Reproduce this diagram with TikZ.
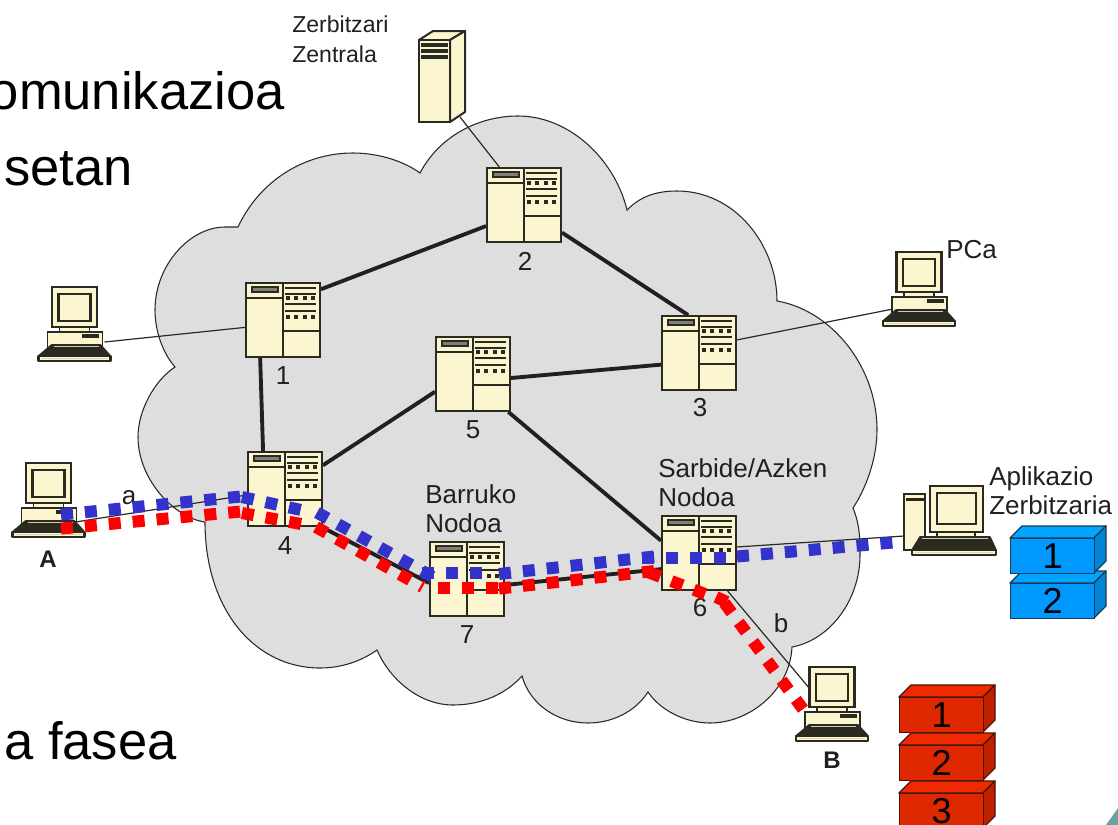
\documentclass[tikz,border=0pt]{standalone}
\usepackage{fontspec}
\setmainfont{Liberation Sans}
\usetikzlibrary{calc}
\pgfdeclarelayer{cloudlayer}
\pgfdeclarelayer{linklayer}
\pgfsetlayers{cloudlayer,linklayer,main}
\definecolor{ink}{HTML}{2B2A20}
\definecolor{cream}{HTML}{FBF6CF}
\definecolor{cloudgrey}{HTML}{DEDEDE}
\definecolor{txt}{HTML}{231F20}
\definecolor{routeblue}{HTML}{3333CC}
\definecolor{routered}{HTML}{FF0000}
\definecolor{blueF}{HTML}{0099FF}
\definecolor{blueT}{HTML}{00A5FF}
\definecolor{blueS}{HTML}{0085D8}
\definecolor{blueL}{HTML}{1A3A55}
\definecolor{redF}{HTML}{DD2800}
\definecolor{redT}{HTML}{F02A00}
\definecolor{redS}{HTML}{BF2000}
\definecolor{redL}{HTML}{4A1208}
\definecolor{cornerteal}{HTML}{66A3A3}
\newcommand\keyboardshape[7]{%
  % #1 x left-top, #2 x right-top, #3 y top, #4 x left-bottom, #5 x right-bottom, #6 y mid, #7 y bottom
  \draw[line width=1.6pt,draw=ink,fill=cream,line join=round] (#4,#6)--(#5,#6)--(#5,#7)--(#4,#7)--cycle;
  \draw[line width=1.2pt,draw=ink,fill=ink,line join=round] (#1,#3)--(#2,#3)--(#5,#6)--(#4,#6)--cycle;
  \draw[line width=.5pt,cream!80!ink] (#1+2,#3+1.5)--(#2-2,#3+1.5);
  \draw[line width=.9pt,cream!85!ink] (#4+3,#6+2.2)--(#5-3,#6+2.2);
}
\newcommand\stackblock[8]{%
  % #1 name, #2 x, #3 y, #4 digit, #5 front, #6 top, #7 side, #8 line
  \draw[line width=1pt,draw=#8,fill=#6,line join=round] (#2,#3)--(#2+12,#3-12)--(#2+96,#3-12)--(#2+84,#3)--cycle;
  \draw[line width=1pt,draw=#8,fill=#7,line join=round] (#2+84,#3)--(#2+96,#3-12)--(#2+96,#3+23)--(#2+84,#3+35)--cycle;
  \node[blockface,draw=#8,fill=#5,anchor=north west] (#1) at (#2,#3) {#4};
}
\tikzset{
  x=0.75pt,y=-0.75pt,
  router/.style={rectangle,draw=ink,line width=1.5pt,fill=cream,inner sep=0pt,
    minimum width=55.5pt,minimum height=55.5pt,
    path picture={
      \draw[line width=1.4pt,ink] (0,-37)--(0,37) (-37,-22)--(0,-22) (0,11)--(37,11);
      \draw[line width=.9pt,draw=ink,fill=ink!60] (-31,-33) rectangle (-5,-28);
      \draw[line width=1.8pt,ink] (2,-32)--(33,-32) (2,-16)--(33,-16) (2,-9)--(33,-9);
      \draw[line width=.9pt,ink] (2,-26)--(33,-26);
      \foreach \yy in {-22,-3}{\foreach \xx in {2.5,11,19.5,28}{\fill[ink] (\xx,\yy-2) rectangle (\xx+4,\yy+2);}}
    }},
  pcbox/.style={rectangle,inner sep=0pt,minimum width=60pt,minimum height=60pt,
    path picture={
      \draw[line width=1.2pt,draw=ink,fill=cream] (-15,3) rectangle (15,8);
      \draw[line width=1.3pt,draw=ink,fill=cream] (-27,8) rectangle (28,25);
      \fill[ink] (7.5,9.5) rectangle (24.5,13.5);
      \draw[line width=1.7pt,draw=ink,fill=cream] (-22.5,-37) rectangle (22.5,3);
      \draw[line width=1.7pt,draw=ink,fill=cream] (-16,-30) rectangle (16,-3);
      \keyboardshape{-23}{26}{21}{-36}{36}{32}{37}
    }},
  appbox/.style={rectangle,inner sep=0pt,minimum width=75pt,minimum height=56pt,
    path picture={
      \draw[line width=1.3pt,draw=ink,fill=cream] (-46.5,-26.5) rectangle (-25.5,29.5);
      \fill[ink] (-45,-22.5) rectangle (-27,-19.5);
      \draw[line width=1.2pt,draw=ink,fill=cream] (-13.5,11.5) rectangle (24.5,16.5);
      \draw[line width=1.7pt,draw=ink,fill=cream] (-20.5,-34.5) rectangle (32.5,11.5);
      \draw[line width=1.7pt,draw=ink,fill=cream] (-13.5,-27.5) rectangle (25.5,3.5);
      \keyboardshape{-30.5}{39.5}{16.5}{-38.5}{45.5}{29.5}{34.5}
    }},
  towerbox/.style={rectangle,inner sep=0pt,minimum width=37.5pt,minimum height=71.25pt,
    path picture={
      \draw[line width=1.5pt,draw=ink,fill=cream,line join=round] (-23,-36.5)--(-9,-45.5)--(23,-45.5)--(8,-36.5)--cycle;
      \draw[line width=1.5pt,draw=ink,fill=cream,line join=round] (8,-36.5)--(23,-45.5)--(23,35.5)--(8,45.5)--cycle;
      \draw[line width=1.5pt,draw=ink,fill=cream] (-23,-36.5) rectangle (8,45.5);
      \foreach \yy in {-33.5,-27.5,-21.5}{\fill[ink] (-21,\yy) rectangle (6,\yy+4);}
    }},
  thicklink/.style={draw=txt,line width=2.9pt},
  thinlink/.style={draw=ink,line width=.9pt},
  route/.style={line width=9pt,dash pattern=on 9pt off 9pt,line cap=butt,line join=round},
  blueroute/.style={route,draw=routeblue},
  redroute/.style={route,draw=routered},
  lbl/.style={inner sep=0pt,text=txt,font=\fontsize{19.5}{22}\selectfont,align=left},
  smalllbl/.style={inner sep=0pt,text=txt,font=\fontsize{17.3}{22.5}\selectfont,align=left},
  boldlbl/.style={inner sep=0pt,text=txt,font=\fontsize{18}{22}\selectfont\bfseries},
  bigtext/.style={inner sep=0pt,text=black,font=\fontsize{39.4}{46}\selectfont},
  blockface/.style={rectangle,line width=1pt,inner sep=0pt,minimum width=63pt,minimum height=26.25pt,
    text=black,font=\fontsize{27}{30}\selectfont},
}
\begin{document}
\begin{tikzpicture}
\useasboundingbox (0,0) rectangle (1118,825);
\clip (0,0) rectangle (1118,825);
\begin{pgfonlayer}{cloudlayer}
\fill[white] (0,0) rectangle (1118,825);
\draw[fill=cloudgrey,draw=ink,line width=.8pt,line join=miter]
  (420,173) .. controls (440,135) and (480,116) .. (518,116)
  .. controls (570,116) and (615,160) .. (627,210)
  .. controls (640,197) and (655,191) .. (677,191)
  .. controls (735,191) and (777,245) .. (777,301)
  .. controls (830,310) and (877,365) .. (877,430)
  .. controls (877,460) and (865,490) .. (853,508)
  .. controls (860,525) and (860,540) .. (860,555)
  .. controls (860,600) and (830,640) .. (792,647)
  .. controls (790,690) and (750,723) .. (710,723)
  .. controls (685,723) and (660,710) .. (648,692)
  .. controls (635,712) and (612,723) .. (588,723)
  .. controls (558,723) and (530,705) .. (522,676)
  .. controls (505,695) and (480,705) .. (453,705)
  .. controls (420,705) and (390,680) .. (377,650)
  .. controls (360,662) and (340,668) .. (320,668)
  .. controls (255,668) and (205,610) .. (205,522)
  .. controls (175,518) and (138,480) .. (138,437)
  .. controls (138,410) and (155,380) .. (175,367)
  .. controls (162,352) and (155,330) .. (155,310)
  .. controls (155,265) and (190,227) .. (225,227)
  .. controls (230,227) and (235,227) .. (238,227)
  .. controls (260,180) and (305,153) .. (353,153)
  .. controls (380,153) and (405,162) .. (420,173) -- cycle;
\end{pgfonlayer}
% big clipped slide text
\node[bigtext,anchor=base east] (bigA) at (285,109) {omunikazioa};
\node[bigtext,anchor=base east] (bigB) at (133,185) {setan};
\node[bigtext,anchor=base east] (bigC) at (177,759) {a fasea};
% network nodes
\node[router] (r1) at (283,320) {};
\node[router] (r2) at (524,205) {};
\node[router] (r3) at (699,353) {};
\node[router] (r4) at (285,489) {};
\node[router] (r5) at (473,374) {};
\node[router] (r6) at (699,553) {};
\node[router] (r7) at (467,579) {};
\node[pcbox] (pcL) at (74.5,324) {};
\node[pcbox] (pcA) at (48.5,500) {};
\node[pcbox] (pcR) at (919,289) {};
\node[pcbox] (pcB) at (832,704) {};
\node[appbox] (app) at (950.5,520.5) {};
\node[towerbox] (tower) at (442,76.5) {};
\begin{pgfonlayer}{linklayer}
\draw[thicklink] (r1.39)--(r2.209);
\draw[thicklink] (r2.-36)--(r3.106);
\draw[thicklink] (r5.-6)--(r3.197);
\draw[thicklink] (r1.239)--(r4.120);
\draw[thicklink] (r4.32)--(r5.205);
\draw[thicklink] (r5.-47)--(r6.162);
\draw[thicklink] (r4.-46)--(r7.186);
\draw[thicklink] (r7.-9)--(r6.203);
\draw[thinlink] ($(pcL)+(30,18)$)--(r1.191);
\draw[thinlink] ($(tower)+(18,40.5)$)--(r2.123);
\draw[thinlink] (r3.19)--($(pcR)+(-26,20)$);
\draw[thinlink] ($(pcA)+(27,22)$)--(r4.189);
\draw[thinlink] (r6.-53)--($(pcB)+(-22,-15)$);
\draw[thinlink] (r6.9)--($(app)+(-46.5,15.5)$);
\end{pgfonlayer}
% labels
\node[smalllbl,anchor=west] (tZ) at (292,39) {Zerbitzari\\Zentrala};
\node[lbl,anchor=west] (tPC) at (946,250) {PCa};
\node[lbl,anchor=west] (tB) at (425,509) {Barruko\\Nodoa};
\node[lbl,anchor=west] (tS) at (658,483) {Sarbide/Azken\\Nodoa};
\node[lbl,anchor=west] (tAp) at (989,491) {Aplikazio\\Zerbitzaria};
\node[lbl] (n1) at (283,376) {1};
\node[lbl] (n2) at (525,261) {2};
\node[lbl] (n3) at (700,408) {3};
\node[lbl] (n4) at (285,546) {4};
\node[lbl] (n5) at (473,430) {5};
\node[lbl] (n6) at (700,608) {6};
\node[lbl] (n7) at (467,635) {7};
\node[lbl] (la) at (129,498) {a};
\node[lbl] (lb) at (781,623) {b};
\node[boldlbl] (lA) at (48,559) {A};
\node[boldlbl] (lB) at (832,760) {B};
% message blocks
\stackblock{bb2}{1010}{583}{2}{blueF}{blueT}{blueS}{blueL}
\stackblock{bb1}{1010}{538}{1}{blueF}{blueT}{blueS}{blueL}
\stackblock{rb3}{899}{793}{3}{redF}{redT}{redS}{redL}
\stackblock{rb2}{899}{745}{2}{redF}{redT}{redS}{redL}
\stackblock{rb1}{899}{697}{1}{redF}{redT}{redS}{redL}
\fill[cornerteal] (1118,808)--(1118,825)--(1106,825)--cycle;
% routes
\draw[redroute] ($(pcA)+(12.5,28.6)$)--(240,511.6);
\draw[redroute] (242,513)--(301,524);
\draw[redroute] (316,527)--(422.5,587.1);
\draw[redroute] (438,588)--(498,588);
\draw[redroute] (499,588.6)--(654,571);
\draw[redroute] (649,572.5)--(705,594);
\draw[redroute] (716,597)--(727,602);
\draw[redroute] (724.5,603)--($(pcB)+(-28,6.5)$);
\draw[blueroute] ($(pcA)+(12.5,14.6)$)--(240,496.6);
\draw[blueroute] (242,497)--(301,510);
\draw[blueroute] (317,512.5)--(433,577);
\draw[blueroute] (422,573)--(483,573);
\draw[blueroute] (499,574)--(654,556.5);
\draw[blueroute] (642,558)--(727,558);
\draw[blueroute] (737,556.5)--($(app)+(-57.5,22)$);
\end{tikzpicture}
\end{document}
